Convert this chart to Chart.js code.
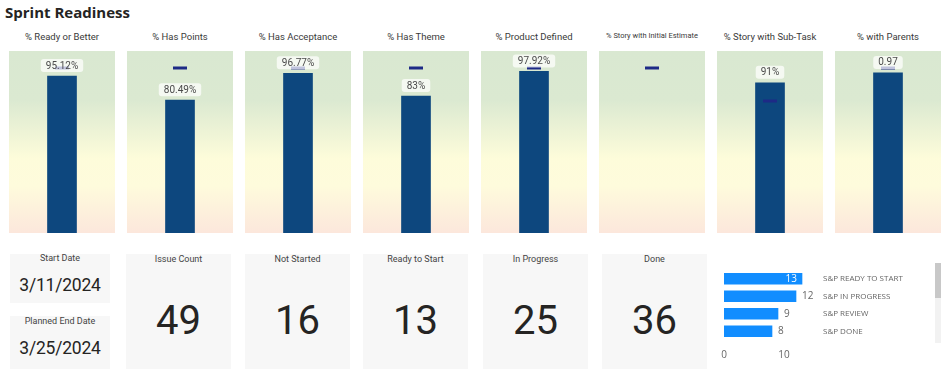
<!DOCTYPE html>
<html>
<head>
<meta charset="utf-8">
<script src="https://cdn.jsdelivr.net/npm/chart.js@4.4.1/dist/chart.umd.min.js"></script>
<style>
  html,body{margin:0;padding:0;background:#fff;width:944px;height:369px;overflow:hidden;font-family:"Open Sans",sans-serif;}
  .abs{position:absolute;}
  #title{left:5px;top:2px;font:bold 15px "Open Sans",sans-serif;color:#252423;}
  .ptitle{position:absolute;top:31px;text-align:center;font-family:"Liberation Sans Narrow","Roboto",sans-serif;font-size:9.5px;color:#3a3a3a;white-space:nowrap;}
  .panel{position:absolute;top:51px;width:106px;height:182px;}
  .card{position:absolute;background:#f7f7f7;}
  .ctitle{position:absolute;left:0;right:0;text-align:center;font-family:"Liberation Sans Narrow","Roboto",sans-serif;font-size:9px;color:#444;}
  .cval{position:absolute;left:0;right:0;text-align:center;font-family:"Roboto",sans-serif;color:#252423;}
</style>
</head>
<body>
<div id="title" class="abs">Sprint Readiness</div>
<div id="top"></div>
<div id="cards"></div>
<div class="abs" style="left:710px;top:250px;width:225px;height:119px;"><canvas id="hbar" width="225" height="119"></canvas></div>
<div class="abs" style="left:935px;top:263px;width:6px;height:80px;background:#f2f2f2;"></div>
<div class="abs" style="left:935px;top:263px;width:6px;height:35px;background:#c8c8c8;"></div>
<script>
// ---- data ----
const metricTitles = ["% Ready or Better","% Has Points","% Has Acceptance","% Has Theme","% Product Defined","% Story with Initial Estimate","% Story with Sub-Task","% with Parents"];
const metricValues = [0.9512, 0.8049, 0.9677, 0.83, 0.9792, null, 0.91, 0.97];
const metricLabels = ["95.12%","80.49%","96.77%","83%","97.92%","","91%","0.97"];
const metricTargets = [1.0, 1.0, 1.0, 1.0, 1.0, 1.0, 0.80, 1.0];

const cardTitles = ["Issue Count","Not Started","Ready to Start","In Progress","Done"];
const cardValues = [49, 16, 13, 25, 36];
const startDate = "3/11/2024";
const endDate = "3/25/2024";

const statusCategories = ["S&P READY TO START","S&P IN PROGRESS","S&P REVIEW","S&P DONE"];
const statusCounts = [13, 12, 9, 8];
const statusTicks = [0, 10];

// ---- top row panels ----
const panelLeft = [9,127,245,363,481,599,717,835];
const topDiv = document.getElementById('top');

const labelPlugin = {
  id:'barLabel',
  afterDatasetsDraw(chart){
    const idx = chart.config.options.plugins.barLabel.index;
    const txt = metricLabels[idx];
    if(!txt) return;
    const meta = chart.getDatasetMeta(1);
    const el = meta.data[0];
    if(!el) return;
    const ctx = chart.ctx;
    ctx.save();
    ctx.font = '10px "Liberation Sans Narrow", "Roboto", sans-serif';
    const w = ctx.measureText(txt).width + 10;
    const h = 13;
    const x = el.x - w/2, y = el.y - 4 - h;
    ctx.fillStyle = 'rgba(255,255,255,0.72)';
    ctx.beginPath();
    ctx.roundRect(x, y, w, h, 3);
    ctx.fill();
    ctx.fillStyle = '#4a4a4a';
    ctx.textAlign = 'center';
    ctx.textBaseline = 'middle';
    ctx.fillText(txt, el.x, y + h/2 + 0.5);
    ctx.restore();
  }
};

const bgPlugin = {
  id:'gradBg',
  beforeDraw(chart){
    const {ctx, chartArea:a} = chart;
    const g = ctx.createLinearGradient(0, a.top, 0, a.bottom);
    g.addColorStop(0, '#d9e8d1');
    g.addColorStop(0.27, '#dbe9d1');
    g.addColorStop(0.59, '#fdfcda');
    g.addColorStop(0.74, '#fefbdc');
    g.addColorStop(1, '#fce7dc');
    ctx.save();
    ctx.fillStyle = g;
    ctx.fillRect(a.left, a.top, a.right - a.left, a.bottom - a.top);
    ctx.restore();
  }
};

metricTitles.forEach((t, i) => {
  const tt = document.createElement('div');
  tt.className = 'ptitle';
  tt.style.left = panelLeft[i] + 'px';
  tt.style.width = '106px';
  if (t.length > 25) { tt.style.fontSize = '7.5px'; tt.style.top = '31px'; }
  tt.textContent = t;
  topDiv.appendChild(tt);

  const p = document.createElement('div');
  p.className = 'panel';
  p.style.left = panelLeft[i] + 'px';
  const c = document.createElement('canvas');
  c.width = 106; c.height = 182;
  c.style.display = 'block';
  p.appendChild(c);
  topDiv.appendChild(p);

  new Chart(c, {
    data: {
      labels: [t],
      datasets: [
        { type:'line', data:[metricTargets[i]], showLine:false, pointStyle:'line',
          pointRadius:7, pointHoverRadius:7, borderWidth:3, borderColor:'#1d2a86', order:0, clip:false },
        { type:'bar', data:[metricValues[i]], backgroundColor:'#0d477e', borderWidth:0,
          barThickness:29, order:1 }
      ]
    },
    options: {
      responsive:false, animation:false, events:[],
      layout:{ padding:0, autoPadding:false },
      plugins:{ legend:{display:false}, tooltip:{enabled:false}, barLabel:{index:i} },
      scales:{
        x:{ display:false },
        y:{ display:false, min:0, max:1.103 }
      }
    },
    plugins:[bgPlugin, labelPlugin]
  });
});

// ---- cards ----
const cardsDiv = document.getElementById('cards');
function addCard(left, top, w, h, title, titleTop, val, valTop, valSize, ls){
  const d = document.createElement('div');
  d.className = 'card';
  d.style.cssText += `left:${left}px;top:${top}px;width:${w}px;height:${h}px;`;
  const t = document.createElement('div');
  t.className = 'ctitle'; t.style.top = titleTop + 'px'; t.textContent = title;
  const v = document.createElement('div');
  v.className = 'cval'; v.style.top = valTop + 'px'; v.style.fontSize = valSize + 'px';
  v.style.lineHeight = '1';
  if (ls) v.style.letterSpacing = ls;
  v.textContent = val;
  d.appendChild(t); d.appendChild(v);
  cardsDiv.appendChild(d);
}
addCard(10, 254, 100, 49, 'Start Date', -1, startDate, 23, 17.5, '-0.2px');
addCard(10, 316, 100, 53, 'Planned End Date', 0, endDate, 24, 17.5, '-0.2px');
const cardLeft = [126, 245, 363, 483, 602];
cardTitles.forEach((t, i) => {
  addCard(cardLeft[i], 254, 105, 115, t, 0, String(cardValues[i]), 47, 40);
});

// ---- horizontal bar ----
const hLabelPlugin = {
  id:'hLabel',
  afterDatasetsDraw(chart){
    const meta = chart.getDatasetMeta(0);
    const ctx = chart.ctx;
    ctx.save();
    ctx.font = '10px "Open Sans", sans-serif';
    ctx.textBaseline = 'middle';
    meta.data.forEach((el, k) => {
      const txt = String(statusCounts[k]);
      if (el.x - el.base > 75) {
        ctx.fillStyle = '#ffffff';
        ctx.textAlign = 'right';
        ctx.fillText(txt, el.x - 5, el.y);
      } else {
        ctx.fillStyle = '#666666';
        ctx.textAlign = 'left';
        ctx.fillText(txt, el.x + 6, el.y);
      }
    });
    ctx.restore();
  }
};

new Chart(document.getElementById('hbar'), {
  type:'bar',
  data:{ labels: statusCategories,
    datasets:[{ data: statusCounts, backgroundColor:'#118dff', borderWidth:0, barThickness:11 }] },
  options:{
    indexAxis:'y', responsive:false, animation:false, events:[],
    layout:{ padding:{ left:14, top:20, bottom:7, right:0 } },
    plugins:{ legend:{display:false}, tooltip:{enabled:false} },
    scales:{
      x:{ min:0, max:15, grid:{display:false}, border:{display:false},
          afterBuildTicks(s){ s.ticks = statusTicks.map(v => ({value:v})); },
          ticks:{ color:'#666', font:{size:10, family:'"Open Sans", sans-serif'}, padding:1 } },
      y:{ position:'right', grid:{display:false, drawTicks:false}, border:{display:false},
          afterFit(s){ s.width = 121; },
          ticks:{ color:'#666', font:{size:8, family:'"Open Sans", sans-serif'}, padding:9 } }
    }
  },
  plugins:[hLabelPlugin]
});
</script>
</body>
</html>
